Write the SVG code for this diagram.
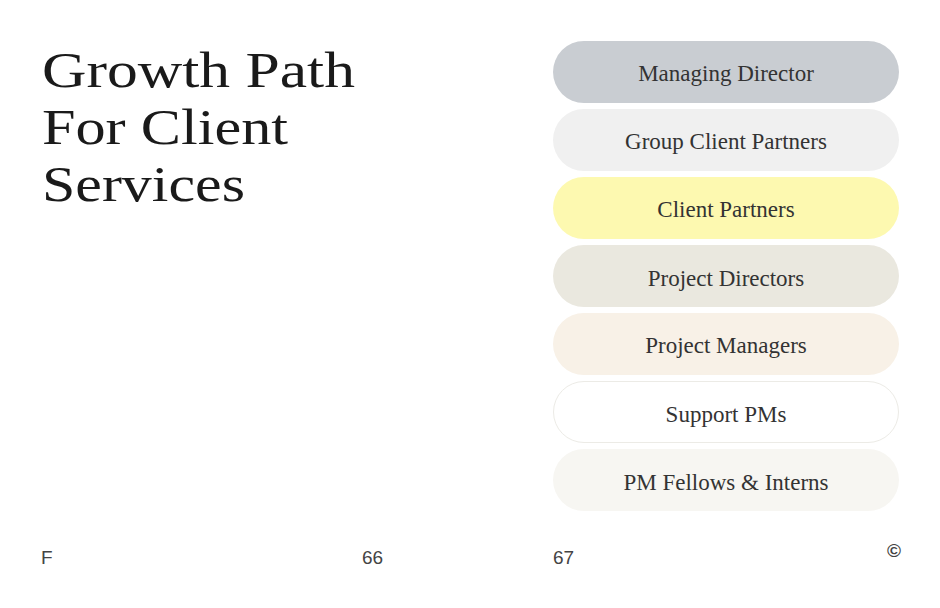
<svg xmlns="http://www.w3.org/2000/svg" width="940" height="608" viewBox="0 0 940 608">
<style>
.pill{stroke:none}
.lbl{font-family:"Liberation Serif",serif;font-size:23px;fill:#333;text-anchor:middle}
.title{font-family:"Liberation Serif",serif;font-size:50px;fill:#1a1a1a}
.foot{font-family:"Liberation Sans",sans-serif;font-size:19px;fill:#444}
</style>
<rect width="940" height="608" fill="#fff"/>
<g id="title"><text class="title" x="42" y="87" textLength="313" lengthAdjust="spacingAndGlyphs">Growth Path</text><text class="title" x="42" y="144" textLength="246" lengthAdjust="spacingAndGlyphs">For Client</text><text class="title" x="42" y="201" textLength="203" lengthAdjust="spacingAndGlyphs">Services</text></g>
<g id="n1"><rect class="pill" x="553" y="41" width="346" height="62" rx="31" fill="#c9cdd2"/><text class="lbl" x="726" y="81">Managing Director</text></g>
<g id="n2"><rect class="pill" x="553" y="109" width="346" height="62" rx="31" fill="#f0f0f0"/><text class="lbl" x="726" y="149">Group Client Partners</text></g>
<g id="n3"><rect class="pill" x="553" y="177" width="346" height="62" rx="31" fill="#fdf9b0"/><text class="lbl" x="726" y="217">Client Partners</text></g>
<g id="n4"><rect class="pill" x="553" y="245" width="346" height="62" rx="31" fill="#eae8df"/><text class="lbl" x="726" y="286">Project Directors</text></g>
<g id="n5"><rect class="pill" x="553" y="313" width="346" height="62" rx="31" fill="#f8f1e7"/><text class="lbl" x="726" y="353">Project Managers</text></g>
<g id="n6"><rect x="553.5" y="381.5" width="345" height="61" rx="30.5" fill="#fff" stroke="#ecebe6"/><text class="lbl" x="726" y="422">Support PMs</text></g>
<g id="n7"><rect class="pill" x="553" y="449" width="346" height="62" rx="31" fill="#f7f6f2"/><text class="lbl" x="726" y="490">PM Fellows &amp; Interns</text></g>
<g id="connectors"/>
<g id="footer"><text class="foot" x="41" y="564">F</text><text class="foot" x="362" y="564">66</text><text class="foot" x="553" y="564">67</text><text class="foot" x="887" y="557" font-size="12" font-weight="bold" fill="#111">©</text></g>
</svg>
